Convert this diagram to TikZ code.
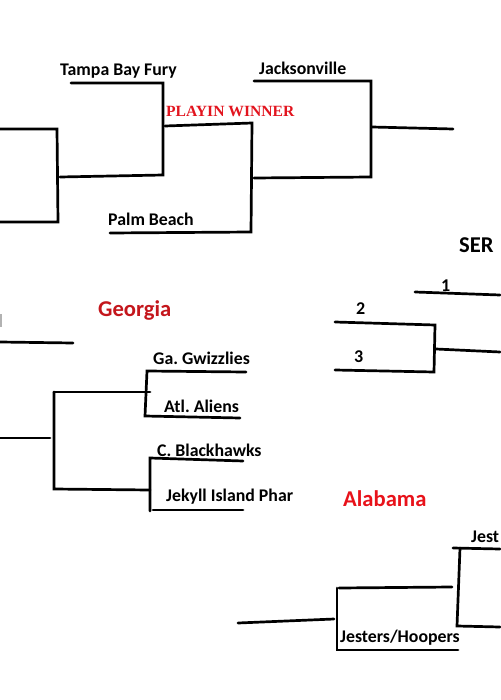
\documentclass[tikz,border=0pt]{standalone}
\usepackage{fontspec}
\setmainfont{Carlito}
\newfontfamily\playfont{Liberation Serif}
\frenchspacing
\definecolor{gared}{RGB}{196,22,28}
\definecolor{alred}{RGB}{232,18,26}
\definecolor{pwred}{RGB}{226,20,30}
\tikzset{
  br/.style={line width=2.7pt, line cap=round, line join=miter, black},
  team/.style={anchor=base west, inner sep=0pt, font=\frenchspacing\fontsize{17.8}{17.8}\selectfont\bfseries},
  seed/.style={anchor=base west, inner sep=0pt, font=\fontsize{18}{18}\selectfont\bfseries},
  region/.style={anchor=base west, inner sep=0pt, font=\fontsize{22.6}{22.6}\selectfont\bfseries},
}
\begin{document}
\begin{tikzpicture}[x=1pt,y=-1pt]
\useasboundingbox (0,0) rectangle (500,700);
% ---------- coordinates ----------
% left bracket (top)
\coordinate (a1) at (0,129); \coordinate (a2) at (57,129);
\coordinate (a3) at (58,222); \coordinate (a4) at (0,222);
% Tampa bracket
\coordinate (t1) at (71,83); \coordinate (t2) at (163,83);
\coordinate (t3) at (163,175); \coordinate (t4) at (60,177);
% playin winner / palm beach
\coordinate (p1) at (165,126); \coordinate (p2) at (252,123);
\coordinate (p3) at (251,232); \coordinate (p4) at (110,233);
% Jacksonville bracket
\coordinate (j1) at (254,81); \coordinate (j2) at (371,81);
\coordinate (j3) at (371,177); \coordinate (j4) at (254,178);
\coordinate (j5) at (372,127); \coordinate (j6) at (453,129);
% seeds 1-3
\coordinate (s1a) at (415,292); \coordinate (s1b) at (500,295);
\coordinate (s2a) at (335,322); \coordinate (s2b) at (435,325);
\coordinate (s3b) at (434,372); \coordinate (s3a) at (335,370);
\coordinate (s4a) at (436,349); \coordinate (s4b) at (500,352);
% Georgia
\coordinate (g0a) at (0,342); \coordinate (g0b) at (73,343);
\coordinate (g1a) at (147,371); \coordinate (g1b) at (246,372);
\coordinate (g2a) at (145,416); \coordinate (g2b) at (240,418);
\coordinate (g3a) at (54,392); \coordinate (g3b) at (150,392);
\coordinate (g4a) at (54,489); \coordinate (g4b) at (150,490);
\coordinate (g5a) at (0,438); \coordinate (g5b) at (50,438);
\coordinate (g6a) at (150,458); \coordinate (g6b) at (243,461);
\coordinate (g7c) at (150,511); \coordinate (g7a) at (153,510); \coordinate (g7b) at (243,510);
% Alabama
\coordinate (h1a) at (453,548); \coordinate (h1b) at (500,549);
\coordinate (h1v) at (460,548);
\coordinate (h2a) at (457,626); \coordinate (h2b) at (500,627);
\coordinate (h3a) at (339,588); \coordinate (h3b) at (452,587);
\coordinate (h3v) at (337,588);
\coordinate (h4a) at (337,650); \coordinate (h4b) at (458,650);
\coordinate (h5a) at (238,623); \coordinate (h5b) at (334,619);
% ---------- lines ----------
\draw[br] (a1) -- (a2) -- (a3) -- (a4);
\draw[br] (t1) -- (t2) -- (t3) -- (t4);
\draw[br] (p1) -- (p2) -- (p3) -- (p4);
\draw[br] (j1) -- (j2) -- (j3) -- (j4);
\draw[br] (j5) -- (j6);
\draw[br] (s1a) -- (s1b);
\draw[br] (s2a) -- (s2b) -- (s3b) -- (s3a);
\draw[br] (s4a) -- (s4b);
\draw[br] (g0a) -- (g0b);
\draw[br] (g1b) -- (g1a) -- (g2a) -- (g2b);
\draw[br] (g3a) -- (g3b);
\draw[br] (g3a) -- (g4a) -- (g4b);
\draw[br] (g5a) -- (g5b);
\draw[br] (g6b) -- (g6a) -- (g7c);
\draw[br] (g7a) -- (g7b);
\draw[br] (h1b) -- (h1a);
\draw[br] (h1v) -- (h2a) -- (h2b);
\draw[br] (h3a) -- (h3b);
\draw[br] (h3v) -- (h4a) -- (h4b);
\draw[br] (h5a) -- (h5b);
\draw[gray!60, line width=1.5pt] (1,314) -- (1,327);
% ---------- labels ----------
\node[team] (tampa) at (60,76) {Tampa Bay Fury};
\node[team] (palm) at (108,226) {Palm Beach};
\node[anchor=base west, inner sep=0pt, text=pwred, font=\playfont\fontsize{15.6}{15.6}\selectfont\bfseries] (playin) at (166,117) {PLAYIN WINNER};
\node[team] (jax) at (259,75) {Jacksonville};
\node[region] (ser) at (459,253) {SER};
\node[seed] (n1) at (441,291) {1};
\node[seed] (n2) at (356,314) {2};
\node[seed] (n3) at (354,362) {3};
\node[region, text=gared] (georgia) at (98,316) {Georgia};
\node[team] (gwiz) at (153,364) {Ga. Gwizzlies};
\node[team] (atl) at (164,412) {Atl. Aliens};
\node[team] (cbh) at (157,456) {C. Blackhawks};
\node[team] (jek) at (166,501) {Jekyll Island Phar};
\node[region, text=alred] (alabama) at (343,506) {Alabama};
\node[team] (jest) at (471,542) {Jest};
\node[team] (jh) at (340,642) {Jesters/Hoopers};
\end{tikzpicture}
\end{document}
